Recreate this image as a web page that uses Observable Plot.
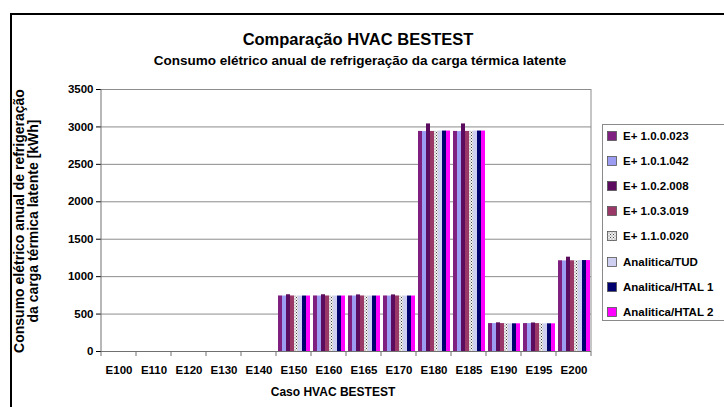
<!DOCTYPE html>
<html>
<head>
<meta charset="utf-8">
<script src="https://cdn.jsdelivr.net/npm/d3@7"></script>
<script src="https://cdn.jsdelivr.net/npm/@observablehq/plot@0.6"></script>
<style>
  html, body { margin: 0; padding: 0; background: #fff; }
  #wrap { position: relative; width: 724px; height: 407px; overflow: hidden; background: #fff;
          font-family: Arial, "Liberation Sans", sans-serif; font-weight: bold; color: #000; }
  #border { position: absolute; left: 10px; top: 13px; width: 800px; height: 500px;
            border-left: 2px solid #000; border-top: 2px solid #000; }
  #title { position: absolute; left: 0; width: 716px; top: 30px; text-align: center; font-size: 16.5px; }
  #subtitle { position: absolute; left: 0; width: 720px; top: 53px; text-align: center; font-size: 13.5px; }
  #ylab { position: absolute; left: 26px; top: 221px; width: 400px; transform: translate(-50%, -50%) rotate(-90deg);
          text-align: center; font-size: 14px; line-height: 14px; white-space: nowrap; }
  #xlab { position: absolute; left: 233px; width: 200px; top: 385px; text-align: center; font-size: 12px; }
  #chart { position: absolute; left: 0; top: 75px; }
  #legend { position: absolute; left: 602px; top: 124px; width: 130px; height: 197px;
            border: 1px solid #8a8a8a; box-sizing: border-box; font-size: 11.5px; }
  .item { position: absolute; left: 4px; height: 13px; line-height: 13px; white-space: nowrap; }
  .item svg { position: absolute; left: 0; top: 1px; }
  .item span { position: absolute; left: 16px; top: 0; }
</style>
</head>
<body>
<div id="wrap">
  <div id="border"></div>
  <div id="title">Comparação HVAC BESTEST</div>
  <div id="subtitle">Consumo elétrico anual de refrigeração da carga térmica latente</div>
  <div id="ylab">Consumo elétrico anual de refrigeração<br>da carga térmica latente [kWh]</div>
  <div id="chart"></div>
  <div id="xlab">Caso HVAC BESTEST</div>
  <div id="legend"></div>
</div>
<script>
const cases = ["E100","E110","E120","E130","E140","E150","E160","E165","E170","E180","E185","E190","E195","E200"];
const seriesNames = ["E+ 1.0.0.023","E+ 1.0.1.042","E+ 1.0.2.008","E+ 1.0.3.019","E+ 1.1.0.020","Analitica/TUD","Analitica/HTAL 1","Analitica/HTAL 2"];
const seriesColors = ["#7f1f80","#9c9cf2","#5c0c5e","#9a3868","url(#dots)","#cfcff2","#00006e","#ff00ff"];
const yTicks = [0,500,1000,1500,2000,2500,3000,3500];

const ep_1_0_0_023 = [0,0,0,0,0,742,742,742,742,2940,2940,373,373,1212];
const ep_1_0_1_042 = [0,0,0,0,0,741,741,741,741,2938,2938,373,373,1210];
const ep_1_0_2_008 = [0,0,0,0,0,758,758,756,756,3040,3040,383,381,1260];
const ep_1_0_3_019 = [0,0,0,0,0,742,742,742,742,2940,2940,373,373,1212];
const ep_1_1_0_020 = [0,0,0,0,0,741,741,741,741,2942,2942,372,372,1212];
const an_tud       = [0,0,0,0,0,741,741,741,741,2945,2945,370,370,1215];
const an_htal1     = [0,0,0,0,0,741,741,741,741,2945,2945,370,370,1215];
const an_htal2     = [0,0,0,0,0,741,741,741,741,2945,2945,370,370,1215];

const seriesValues = [ep_1_0_0_023, ep_1_0_1_042, ep_1_0_2_008, ep_1_0_3_019, ep_1_1_0_020, an_tud, an_htal1, an_htal2];
const data = seriesValues.flatMap((arr, i) => arr.map((v, j) => ({case: cases[j], series: seriesNames[i], value: v})));

const chart = Plot.plot({
  width: 724,
  height: 310,
  marginTop: 14,
  marginBottom: 34,
  marginLeft: 100,
  marginRight: 132,
  style: {fontFamily: "Arial, 'Liberation Sans', sans-serif", fontSize: "11.5px", fontWeight: "bold", color: "#000", background: "transparent", overflow: "visible"},
  fx: {domain: cases, padding: 0, axis: "bottom", tickSize: 0, tickPadding: 14, label: null},
  x: {domain: seriesNames, axis: null, paddingInner: 0, paddingOuter: 0.22},
  y: {domain: [0, 3500], ticks: yTicks, tickFormat: d => String(d), tickSize: 5, tickPadding: 3, label: null},
  color: {domain: seriesNames, range: seriesColors},
  marks: [
    Plot.ruleY(yTicks.slice(1), {stroke: "#8c8c8c", strokeWidth: 1}),
    Plot.barY(data, {fx: "case", x: "series", y: "value", fill: "series"}),
    Plot.ruleY([0], {stroke: "#707070", strokeWidth: 1})
  ]
});

const svg = d3.select(chart);
svg.insert("defs", ":first-child").html(
  '<pattern id="dots" patternUnits="userSpaceOnUse" width="3" height="3">' +
  '<rect width="3" height="3" fill="#f0f0f0"/>' +
  '<rect x="0" y="0" width="1" height="1" fill="#444"/>' +
  '<rect x="1.5" y="1.5" width="1" height="1" fill="#777"/>' +
  '</pattern>');

const fxS = chart.scale("fx");
const yS = chart.scale("y");
const bounds = cases.map(c => fxS.apply(c)).concat([fxS.apply(cases[cases.length - 1]) + fxS.bandwidth]);
const y0 = yS.apply(0), yTop = yS.apply(3500);
const g = svg.append("g");
g.append("line").attr("x1", bounds[0]).attr("x2", bounds[0]).attr("y1", yTop).attr("y2", y0).attr("stroke", "#707070");
g.append("line").attr("x1", bounds[bounds.length-1]).attr("x2", bounds[bounds.length-1]).attr("y1", yTop).attr("y2", y0).attr("stroke", "#8c8c8c");
bounds.forEach(b => g.append("line").attr("x1", b).attr("x2", b).attr("y1", y0).attr("y2", y0 + 5).attr("stroke", "#707070"));

document.getElementById("chart").appendChild(chart);

const legend = document.getElementById("legend");
seriesNames.forEach((name, i) => {
  const item = document.createElement("div");
  item.className = "item";
  item.style.top = (5 + i * 25.1) + "px";
  item.innerHTML = '<svg width="10" height="10"><rect x="0.5" y="0.5" width="9" height="9" fill="' + seriesColors[i] + '" stroke="#555" stroke-width="0.8"/></svg><span>' + name + '</span>';
  legend.appendChild(item);
});
</script>
</body>
</html>
